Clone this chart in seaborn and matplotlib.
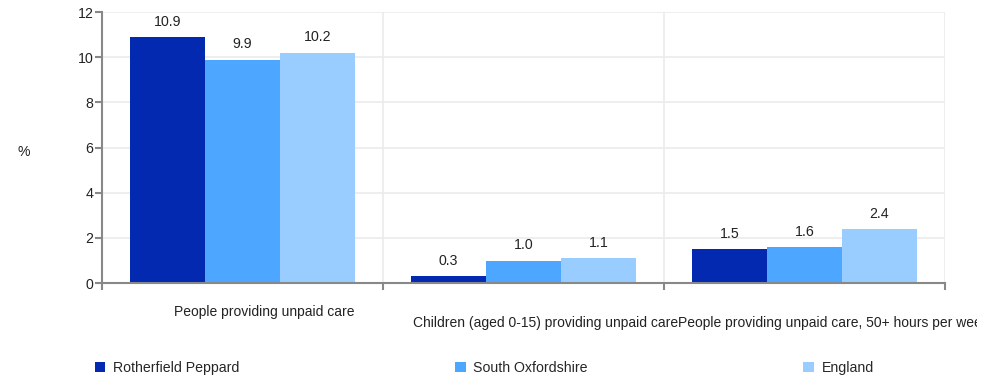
import matplotlib
matplotlib.use("Agg")
import matplotlib.pyplot as plt
import matplotlib.transforms as mtransforms
import seaborn as sns
import pandas as pd

categories = ["People providing unpaid care",
              "Children (aged 0-15) providing unpaid care",
              "People providing unpaid care, 50+ hours per week"]
areas = ["Rotherfield Peppard", "South Oxfordshire", "England"]
rotherfield = [10.9, 0.3, 1.5]
south_oxon = [9.9, 1.0, 1.6]
england = [10.2, 1.1, 2.4]
colors = ["#0229b0", "#4da6ff", "#99ccff"]

rows = []
for area, vals in zip(areas, [rotherfield, south_oxon, england]):
    for cat, v in zip(categories, vals):
        rows.append({"category": cat, "area": area, "value": v})
df = pd.DataFrame(rows)

FS = 10.2
CFS = 10.0
sns.set_style("white")
plt.rcParams["font.family"] = ["Liberation Sans", "DejaVu Sans"]
plt.rcParams["font.size"] = FS

fig = plt.figure(figsize=(9.98, 3.77), dpi=100)
ax = fig.add_axes([0.102, 0.249, 0.845, 0.719])

sns.barplot(data=df, x="category", y="value", hue="area", palette=colors,
            width=0.8, saturation=1, linewidth=0, ax=ax, legend=True)

for cont in ax.containers:
    ax.bar_label(cont, fmt="%.1f", padding=6, fontsize=FS, color="#222222")

ax.set_xlim(-0.5, 2.5)
ax.set_ylim(0, 12)
ax.set_yticks(range(0, 13, 2))
ax.set_xticks([-0.5, 0.5, 1.5, 2.5])
ax.set_xticklabels([])
ax.set_xlabel("")
ax.set_ylabel("")
ax.grid(True, color="#ebebeb", linewidth=1.2)
ax.set_axisbelow(True)
for s in ["top", "right"]:
    ax.spines[s].set_visible(False)
for s in ["left", "bottom"]:
    ax.spines[s].set_color("#888888")
    ax.spines[s].set_linewidth(1.5)
ax.tick_params(axis="both", bottom=True, left=True, length=5, width=1.5,
               color="#888888", pad=1, labelcolor="#222222", labelsize=FS)

fig.text(0.018, 0.597, "%", fontsize=FS, color="#222222", va="center")

# category labels, staggered and run together like the original
trans = mtransforms.blended_transform_factory(ax.transData, fig.transFigure)
shift = mtransforms.ScaledTranslation(22 / 100, 0, fig.dpi_scale_trans)
ax.text(0, 1 - 312 / 377, categories[0], transform=trans + shift, ha="center",
        va="center", color="#222222", fontsize=CFS)
t2 = ax.text(1, 1 - 323 / 377, categories[1], transform=trans + shift,
             ha="center", va="center", color="#222222", fontsize=CFS)
fig.canvas.draw()
bb = t2.get_window_extent()
t3 = fig.text(bb.x1 / fig.bbox.width, 1 - 323 / 377, categories[2], ha="left",
              va="center", color="#222222", fontsize=CFS)
t3.set_clip_box(mtransforms.Bbox.from_extents(0, 0, 977, fig.bbox.height))
t3.set_clip_on(True)

handles, labels = ax.get_legend_handles_labels()
ax.get_legend().remove()
fig.legend(handles, labels, loc="center left", bbox_to_anchor=(0.095, 1 - 368 / 377),
           ncol=3, frameon=False, handlelength=0.75, handleheight=0.75,
           handletextpad=0.55, columnspacing=15.2, fontsize=FS,
           borderaxespad=0, borderpad=0)

fig.savefig("out.png", dpi=100)
